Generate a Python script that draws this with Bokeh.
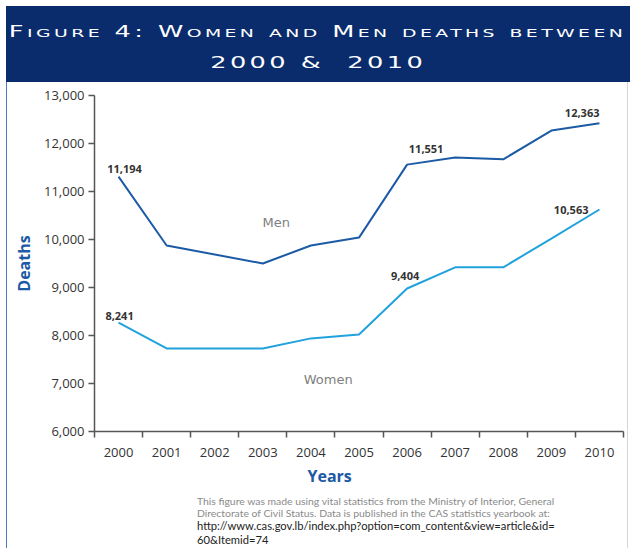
import html
from bokeh.plotting import figure
from bokeh.models import (ColumnDataSource, FixedTicker, NumeralTickFormatter, Label,
                          Div, Range1d, Title)
from bokeh.layouts import column
from bokeh.embed import file_html
from bokeh.resources import INLINE
from bokeh.core.properties import value

# ---------------- data ----------------
title_line1 = "Figure 4: Women and Men deaths between"
title_line2 = "2000 &  2010"
years = [2000, 2001, 2002, 2003, 2004, 2005, 2006, 2007, 2008, 2009, 2010]
y_ticks = [6000, 7000, 8000, 9000, 10000, 11000, 12000, 13000]

men_years = [2000, 2001, 2003, 2004, 2005, 2006, 2007, 2008, 2009, 2010]
men_deaths = [11310, 9875, 9500, 9875, 10040, 11560, 11710, 11670, 12270, 12420]
women_years = [2000, 2001, 2003, 2004, 2005, 2006, 2007, 2008, 2009, 2010]
women_deaths = [8270, 7730, 7730, 7940, 8020, 8980, 9420, 9420, 10020, 10625]

men_label_years = [2000, 2006, 2010]
men_label_texts = ["11,194", "11,551", "12,363"]
women_label_years = [2000, 2006, 2010]
women_label_texts = ["8,241", "9,404", "10,563"]

series_names = ["Men", "Women"]
x_title = "Years"
y_title = "Deaths"
note_lines = [
    "This figure was made using vital statistics from the Ministry of Interior, General",
    "Directorate of Civil Status. Data is published in the CAS statistics yearbook at:",
    "http://www.cas.gov.lb/index.php?option=com_content&view=article&id=",
    "60&Itemid=74",
]

# ---------------- styles ----------------
NAVY = "#0a2c6c"
MEN_C = "#1b5ba5"
WOMEN_C = "#22a2dc"
AXIS_C = "#555555"
TITLE_BLUE = "#1c5aa5"
EDGE_BG = ("linear-gradient(to right, transparent 6px, #4a7bbf 6px, #4a7bbf 7.5px, transparent 7.5px, "
           "transparent 627px, #d6d6d6 627px, #d6d6d6 628px, transparent 628px)")

pos = {yr: i + 0.5 for i, yr in enumerate(years)}

p = figure(width=629, height=414, x_range=Range1d(0, len(years)), y_range=Range1d(y_ticks[0], y_ticks[-1]),
           output_backend="svg", toolbar_location=None,
           min_border_left=94, min_border_right=6, min_border_top=13, min_border_bottom=65)
p.margin = (0, 0, 0, 0)
p.outline_line_color = None
p.grid.grid_line_color = None
p.border_fill_color = None
p.background_fill_color = "white"
p.styles = {"background": EDGE_BG}

men_src = ColumnDataSource(dict(x=[pos[y] for y in men_years], y=men_deaths))
women_src = ColumnDataSource(dict(x=[pos[y] for y in women_years], y=women_deaths))
p.line("x", "y", source=men_src, line_color=MEN_C, line_width=2)
p.line("x", "y", source=women_src, line_color=WOMEN_C, line_width=2)

# value labels
men_lookup = dict(zip(men_years, men_deaths))
women_lookup = dict(zip(women_years, women_deaths))
lab_x, lab_y, lab_t, lab_xo, lab_yo, lab_al = [], [], [], [], [], []
men_off = [(6, -4, "center"), (19, -12, "center"), (0, -6, "right")]
women_off = [(1, -3, "center"), (-2, -8, "center"), (-11, 4, "right")]
for yr, t, (xo, yo, al) in zip(men_label_years, men_label_texts, men_off):
    lab_x.append(pos[yr]); lab_y.append(men_lookup[yr]); lab_t.append(t)
    lab_xo.append(xo); lab_yo.append(yo); lab_al.append(al)
for yr, t, (xo, yo, al) in zip(women_label_years, women_label_texts, women_off):
    lab_x.append(pos[yr]); lab_y.append(women_lookup[yr]); lab_t.append(t)
    lab_xo.append(xo); lab_yo.append(yo); lab_al.append(al)
lab_src = ColumnDataSource(dict(x=lab_x, y=lab_y, t=lab_t, xo=lab_xo, yo=lab_yo, al=lab_al))
p.text("x", "y", text="t", source=lab_src, x_offset="xo", y_offset="yo", text_align="al",
       text_baseline="bottom", text_font=value("Open Sans"), text_font_style="bold",
       text_font_size="11px", text_color="#333333")

# series names
p.add_layout(Label(x=3.78, y=10354, text=series_names[0], text_align="center", text_baseline="middle",
                   text_font="DejaVu Sans", text_font_size="13px", text_color="#808080"))
p.add_layout(Label(x=4.86, y=7083, text=series_names[1], text_align="center", text_baseline="middle",
                   text_font="DejaVu Sans", text_font_size="13px", text_color="#808080"))

# axes
xa = p.xaxis[0]
xa.ticker = FixedTicker(ticks=[pos[y] for y in years], minor_ticks=list(range(len(years) + 1)))
xa.major_label_overrides = {pos[y]: str(y) for y in years}
xa.major_tick_line_color = None
xa.major_tick_in = 0
xa.major_tick_out = 0
xa.minor_tick_in = 0
xa.minor_tick_out = 6
xa.minor_tick_line_color = AXIS_C
xa.minor_tick_line_width = 1.5
xa.axis_line_color = AXIS_C
xa.axis_line_width = 1.5
xa.major_label_standoff = 10
xa.major_label_text_font = "Open Sans"
xa.major_label_text_font_size = "13px"
xa.major_label_text_color = "#333333"

# x title as a left-aligned title below the axis
p.add_layout(Title(text=x_title, align="left", offset=213, standoff=6, text_font="Open Sans",
                   text_font_style="bold", text_font_size="16px", text_color=TITLE_BLUE), "below")

ya = p.yaxis[0]
ya.ticker = FixedTicker(ticks=y_ticks, minor_ticks=[])
ya.formatter = NumeralTickFormatter(format="0,0")
ya.major_tick_in = 0
ya.major_tick_out = 6
ya.major_tick_line_color = AXIS_C
ya.major_tick_line_width = 1.5
ya.minor_tick_line_color = None
ya.axis_line_color = AXIS_C
ya.axis_line_width = 1.5
ya.major_label_standoff = 4
ya.major_label_text_font = "Open Sans"
ya.major_label_text_font_size = "13px"
ya.major_label_text_color = "#333333"
ya.axis_label = y_title
ya.axis_label_text_font = "Open Sans"
ya.axis_label_text_font_style = "bold"
ya.axis_label_text_font_size = "16px"
ya.axis_label_text_color = TITLE_BLUE
ya.axis_label_standoff = 6

line_style = ("position:absolute;left:0;width:624px;text-align:center;white-space:nowrap;"
              "font-family:'DejaVu Sans';font-variant:small-caps;font-size:15px;line-height:20px;"
              "letter-spacing:2px;color:#ffffff;")
span_style = "display:inline-block;transform:scaleX(1.71);transform-origin:center;"
banner_html = (
    f'<div style="margin-left:6px;margin-top:6px;width:624px;height:76px;background:{NAVY};'
    f'position:relative;overflow:hidden;">'
    f'<div style="{line_style}top:16px;"><span style="{span_style}">{html.escape(title_line1)}</span></div>'
    f'<div style="{line_style}top:47px;"><span style="{span_style}">'
    f'{html.escape(title_line2).replace("  ", " &nbsp;")}</span></div>'
    '</div>'
)
banner = Div(text=banner_html, width=630, height=82, margin=(0, 0, 0, 0))

note_html = (
    f'<div style="width:630px;height:52px;background:{EDGE_BG};">'
    '<div style="padding-left:197px;font-family:Lato;white-space:nowrap;">'
    f'<div style="color:#8a8a8a;font-size:10.4px;line-height:11.5px;">{html.escape(note_lines[0])}<br>'
    f'{html.escape(note_lines[1])}</div>'
    f'<div style="color:#222222;font-size:11.2px;line-height:14px;">{html.escape(note_lines[2])}<br>'
    f'{html.escape(note_lines[3])}</div></div></div>'
)
note = Div(text=note_html, width=630, height=52, margin=(0, 0, 0, 0))

layout = column(banner, p, note)
open("out.html", "w").write(file_html(layout, INLINE))
